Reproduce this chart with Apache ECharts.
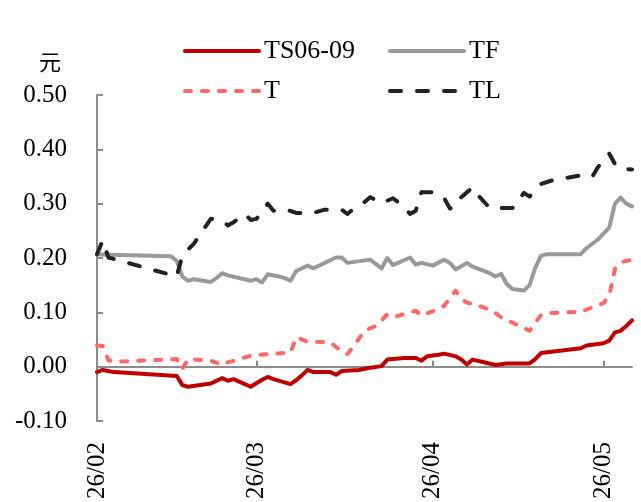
<!DOCTYPE html>
<html>
<head>
<meta charset="utf-8">
<script src="https://cdn.jsdelivr.net/npm/echarts@6/dist/echarts.min.js"></script>
<style>
  html, body { margin: 0; padding: 0; background: #fff; }
  #chart { width: 641px; height: 502px; }
</style>
</head>
<body>
<div id="chart"></div>
<script>
// Spread (元) per contract, daily readings
const tsDates = ['2026-02-02','2026-02-03','2026-02-05','2026-02-16','2026-02-17','2026-02-18','2026-02-22','2026-02-24','2026-02-25','2026-02-26',
  '2026-03-01','2026-03-03','2026-03-04','2026-03-05','2026-03-08','2026-03-09','2026-03-10','2026-03-11','2026-03-12','2026-03-15',
  '2026-03-16','2026-03-17','2026-03-20','2026-03-22','2026-03-24','2026-03-25','2026-03-28','2026-03-30','2026-03-31','2026-04-01',
  '2026-04-03','2026-04-04','2026-04-06','2026-04-07','2026-04-08','2026-04-09','2026-04-11','2026-04-13','2026-04-15','2026-04-19',
  '2026-04-20','2026-04-21','2026-04-28','2026-04-29','2026-05-02','2026-05-03','2026-05-04','2026-05-05','2026-05-06','2026-05-07'];
const tsValues = [-0.010,-0.006,-0.010,-0.017,-0.034,-0.037,-0.031,-0.021,-0.026,-0.023,
  -0.037,-0.024,-0.019,-0.023,-0.032,-0.025,-0.016,-0.006,-0.010,-0.010,
  -0.015,-0.008,-0.006,-0.002,0.001,0.013,0.016,0.016,0.011,0.019,
  0.022,0.024,0.019,0.013,0.004,0.013,0.008,0.003,0.006,0.006,
  0.014,0.025,0.034,0.039,0.043,0.048,0.063,0.066,0.075,0.085];

const tfDates = ['2026-02-02','2026-02-04','2026-02-15','2026-02-16','2026-02-17','2026-02-18','2026-02-19','2026-02-22','2026-02-23','2026-02-24',
  '2026-02-25','2026-03-01','2026-03-02','2026-03-03','2026-03-04','2026-03-06','2026-03-07','2026-03-08','2026-03-09','2026-03-11',
  '2026-03-12','2026-03-16','2026-03-17','2026-03-18','2026-03-22','2026-03-24','2026-03-25','2026-03-26','2026-03-29','2026-03-30',
  '2026-03-31','2026-04-02','2026-04-04','2026-04-05','2026-04-06','2026-04-08','2026-04-09','2026-04-12','2026-04-13','2026-04-14',
  '2026-04-15','2026-04-16','2026-04-18','2026-04-19','2026-04-20','2026-04-21','2026-04-22','2026-04-28','2026-04-29','2026-05-01',
  '2026-05-03','2026-05-04','2026-05-05','2026-05-06','2026-05-07'];
const tfValues = [0.207,0.206,0.203,0.195,0.166,0.158,0.161,0.156,0.163,0.172,
  0.168,0.158,0.161,0.155,0.170,0.166,0.163,0.158,0.176,0.186,
  0.181,0.201,0.201,0.191,0.197,0.181,0.200,0.187,0.201,0.188,
  0.191,0.186,0.197,0.191,0.179,0.191,0.184,0.172,0.166,0.171,
  0.152,0.143,0.140,0.150,0.182,0.204,0.207,0.207,0.218,0.234,
  0.256,0.300,0.311,0.300,0.295];

const tDates = ['2026-02-02','2026-02-03','2026-02-04','2026-02-05','2026-02-16','2026-02-17','2026-02-18','2026-02-22','2026-02-24','2026-02-25',
  '2026-03-01','2026-03-04','2026-03-08','2026-03-09','2026-03-11','2026-03-15','2026-03-16','2026-03-18','2026-03-20','2026-03-21',
  '2026-03-23','2026-03-25','2026-03-26','2026-03-30','2026-03-31','2026-04-03','2026-04-04','2026-04-05','2026-04-06','2026-04-07',
  '2026-04-08','2026-04-11','2026-04-13','2026-04-14','2026-04-19','2026-04-21','2026-04-23','2026-04-28','2026-05-02','2026-05-03',
  '2026-05-04','2026-05-05','2026-05-07'];
const tValues = [0.039,0.038,0.012,0.009,0.014,-0.004,0.014,0.011,0.003,0.008,
  0.020,0.023,0.026,0.054,0.046,0.045,0.036,0.023,0.051,0.066,
  0.075,0.096,0.091,0.103,0.094,0.106,0.112,0.126,0.140,0.125,
  0.118,0.109,0.099,0.091,0.066,0.095,0.099,0.101,0.117,0.131,
  0.180,0.192,0.197];

const tlDates = ['2026-02-02','2026-02-03','2026-02-04','2026-02-16','2026-02-17','2026-02-19','2026-02-22','2026-02-24','2026-02-25','2026-02-26',
  '2026-02-28','2026-03-01','2026-03-02','2026-03-03','2026-03-04','2026-03-05','2026-03-07','2026-03-09','2026-03-12','2026-03-14',
  '2026-03-17','2026-03-18','2026-03-19','2026-03-21','2026-03-22','2026-03-24','2026-03-26','2026-03-28','2026-03-29','2026-03-30',
  '2026-03-31','2026-04-02','2026-04-03','2026-04-04','2026-04-05','2026-04-06','2026-04-07','2026-04-09','2026-04-10','2026-04-12',
  '2026-04-16','2026-04-17','2026-04-18','2026-04-19','2026-04-21','2026-04-23','2026-04-28','2026-04-30','2026-05-01','2026-05-02',
  '2026-05-03','2026-05-04','2026-05-05','2026-05-07'];
const tlValues = [0.207,0.232,0.201,0.166,0.205,0.226,0.272,0.269,0.260,0.266,
  0.281,0.270,0.272,0.285,0.300,0.287,0.290,0.283,0.283,0.289,
  0.289,0.281,0.290,0.303,0.312,0.301,0.310,0.294,0.281,0.287,
  0.321,0.321,0.318,0.310,0.291,0.295,0.312,0.330,0.315,0.292,
  0.292,0.305,0.320,0.313,0.336,0.343,0.352,0.349,0.367,0.380,
  0.392,0.373,0.364,0.363];

// Axis ranges and month tick positions
const xStart = '2026-02-02';
const xEnd = '2026-05-07';
const monthTicks = ['2026-02-02','2026-03-02','2026-04-02','2026-05-02'];
const yMin = -0.1, yMax = 0.5, yStep = 0.1;

const SERIF = '"Liberation Serif", "Times New Roman", serif';
const AXIS_GRAY = '#8c8c8c';

const ts = d => +echarts.time.parse(d);
const pair = (dates, values) => dates.map((d, i) => [ts(d), values[i]]);
const pad2 = n => (n < 10 ? '0' : '') + n;
const monthLabel = v => {
  const d = new Date(v);
  return pad2(d.getFullYear() % 100) + '/' + pad2(d.getMonth() + 1);
};

const legendBase = {
  orient: 'vertical', top: 37, padding: 0,
  itemWidth: 74, itemHeight: 20, itemGap: 12,
  itemStyle: { opacity: 0 },
  lineStyle: { width: 4, cap: 'round' },
  textStyle: { fontFamily: SERIF, fontSize: 26, color: '#000', lineHeight: 28 }
};

const chart = echarts.init(document.getElementById('chart'), null, { renderer: 'canvas' });

chart.setOption({
  animation: false,
  backgroundColor: '#fff',
  grid: { left: 97, right: 9, top: 95, bottom: 81, containLabel: false, outerBoundsMode: 'none' },
  legend: [
    Object.assign({}, legendBase, { data: ['TS06-09', 'T'], left: 183 }),
    Object.assign({}, legendBase, { data: ['TF', 'TL'], left: 388 })
  ],
  xAxis: {
    type: 'value',
    min: ts(xStart),
    max: ts(xEnd),
    splitLine: { show: false },
    axisLine: { onZero: true, lineStyle: { color: AXIS_GRAY, width: 2 } },
    axisTick: {
      show: true, inside: true, length: 6,
      customValues: monthTicks.slice(1).map(ts),
      lineStyle: { color: AXIS_GRAY, width: 2 }
    },
    axisLabel: {
      customValues: monthTicks.map(ts),
      rotate: 90,
      margin: 21,
      fontFamily: SERIF,
      fontSize: 25,
      color: '#000',
      formatter: monthLabel
    }
  },
  yAxis: {
    type: 'value',
    min: yMin,
    max: yMax,
    interval: yStep,
    name: '元',
    nameLocation: 'end',
    nameGap: 33,
    nameTextStyle: {
      fontFamily: '"Noto Sans CJK SC", sans-serif', fontSize: 22, color: '#000',
      align: 'center', verticalAlign: 'middle', padding: [0, 94, 0, 0]
    },
    splitLine: { show: false },
    axisLine: { show: true, lineStyle: { color: AXIS_GRAY, width: 2 } },
    axisTick: { show: true, inside: true, length: 6, lineStyle: { color: AXIS_GRAY, width: 2 } },
    axisLabel: {
      margin: 30,
      padding: [7, 0, 0, 0],
      fontFamily: SERIF,
      fontSize: 25,
      color: '#000',
      formatter: v => v.toFixed(2)
    }
  },
  series: [
    {
      name: 'TS06-09', type: 'line', symbol: 'none', z: 4,
      data: pair(tsDates, tsValues),
      lineStyle: { color: '#c00000', width: 4, join: 'round', cap: 'round' },
      itemStyle: { color: '#c00000' }
    },
    {
      name: 'T', type: 'line', symbol: 'none', z: 3,
      data: pair(tDates, tValues),
      lineStyle: { color: '#ff6666', width: 4, type: [6, 11], join: 'round', cap: 'round' },
      itemStyle: { color: '#ff6666' }
    },
    {
      name: 'TF', type: 'line', symbol: 'none', z: 2,
      data: pair(tfDates, tfValues),
      lineStyle: { color: '#999999', width: 4, join: 'round', cap: 'round' },
      itemStyle: { color: '#999999' }
    },
    {
      name: 'TL', type: 'line', symbol: 'none', z: 2,
      data: pair(tlDates, tlValues),
      lineStyle: { color: '#222222', width: 4, type: [11, 16], join: 'round', cap: 'round' },
      itemStyle: { color: '#222222' }
    }
  ]
});
</script>
</body>
</html>
